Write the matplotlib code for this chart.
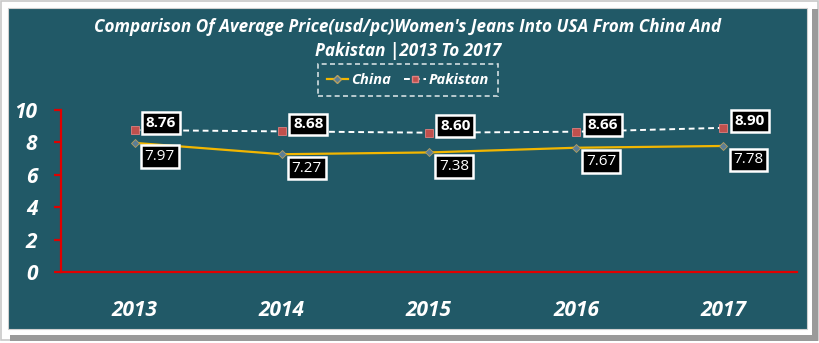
import matplotlib.pyplot as plt
from matplotlib.patches import Rectangle
from matplotlib.lines import Line2D

years = ['2013', '2014', '2015', '2016', '2017']
china = [7.97, 7.27, 7.38, 7.67, 7.78]
pakistan = [8.76, 8.68, 8.60, 8.66, 8.90]

bg = '#215967'
W, H = 820, 343

plt.rcParams['font.family'] = ['Open Sans', 'DejaVu Sans']

fig = plt.figure(figsize=(8.2, 3.43), dpi=100)
fig.patch.set_facecolor('white')

# outer frame: gray border, shadow and teal panel
frame = [
    Rectangle((1 / W, 3 / H), 817 / W, 339 / H, facecolor='white', edgecolor='#c8c8c8', lw=1.2),
    Rectangle((812 / W, 2 / H), 6 / W, 332 / H, facecolor='#9a9a9a', edgecolor='none'),
    Rectangle((10 / W, 2 / H), 808 / W, 6 / H, facecolor='#9a9a9a', edgecolor='none'),
    Rectangle((8 / W, 14 / H), 799 / W, 321 / H, facecolor=bg, edgecolor='#d0d0d0', lw=0.8),
]
for p in frame:
    p.set_transform(fig.transFigure)
    p.set_zorder(-5)
    fig.patches.append(p)

ax = fig.add_axes([61 / W, (H - 272) / H, 736 / W, 162 / H])
ax.set_zorder(2)
ax.patch.set_alpha(0)

x = list(range(len(years)))
ax.plot(x, china, color='#f2b600', lw=1.6, marker='D', ms=4,
        mfc='#5b7e96', mec='#b8a060', mew=0.6, zorder=3, clip_on=False)
ax.plot(x, pakistan, color='white', lw=1.4, ls=(0, (3, 2)), marker='s', ms=5.5,
        mfc='#c0504d', mec='#e08080', mew=0.6, zorder=3, clip_on=False)

box = dict(boxstyle='square,pad=0.25', fc='black', ec='white', lw=1.8)
for i in x:
    ax.annotate(f'{pakistan[i]:.2f}', (i, pakistan[i]), xytext=(19, 5), textcoords='offset points',
                ha='center', va='center', color='white', fontsize=11, fontweight='bold',
                bbox=box, zorder=5)
    ax.annotate(f'{china[i]:.2f}', (i, china[i]), xytext=(18, -10), textcoords='offset points',
                ha='center', va='center', color='white', fontsize=11,
                bbox=box, zorder=5)

ax.set_xlim(-0.5, 4.5)
ax.set_ylim(0, 10)
ax.set_yticks([0, 2, 4, 6, 8, 10])
ax.set_xticks(x)
ax.set_xticklabels(years)
for s in ['top', 'right']:
    ax.spines[s].set_visible(False)
for s in ['left', 'bottom']:
    ax.spines[s].set_color('#e00000')
    ax.spines[s].set_linewidth(1.6)
ax.tick_params(axis='y', colors='#e00000', length=5, width=1.6, direction='out', pad=12)
ax.tick_params(axis='x', length=0, pad=20)
for lab in ax.get_yticklabels() + ax.get_xticklabels():
    lab.set_color('white')
    lab.set_fontweight('bold')
    lab.set_fontstyle('italic')
    lab.set_fontsize(15)

fig.text(408 / W, 1 - 27 / H, "Comparison Of Average Price(usd/pc)Women's Jeans Into USA From China And",
         ha='center', va='center', color='white', fontsize=12.3, fontweight='bold', fontstyle='italic')
fig.text(408 / W, 1 - 51 / H, "Pakistan |2013 To 2017",
         ha='center', va='center', color='white', fontsize=12.3, fontweight='bold', fontstyle='italic')

handles = [Line2D([], [], color='#f2b600', lw=1.6, marker='D', ms=4, mfc='#5b7e96', mec='#b8a060'),
           Line2D([], [], color='white', lw=1.4, ls=(0, (3, 2)), marker='s', ms=5,
                  mfc='#c0504d', mec='#e08080')]
leg = fig.legend(handles, ['China', 'Pakistan'], loc='center', bbox_to_anchor=(408 / W, 1 - 80 / H),
                 ncol=2, frameon=True, fontsize=10.5, handlelength=1.5, columnspacing=0.9,
                 handletextpad=0.2, borderpad=0.3)
leg.get_frame().set_facecolor(bg)
leg.get_frame().set_edgecolor('white')
leg.get_frame().set_linestyle((0, (3, 2)))
leg.get_frame().set_linewidth(1.2)
leg.get_frame().set_boxstyle('square')
for t in leg.get_texts():
    t.set_color('white')
    t.set_fontweight('bold')
    t.set_fontstyle('italic')

fig.savefig('out.png', dpi=100, facecolor='white')
